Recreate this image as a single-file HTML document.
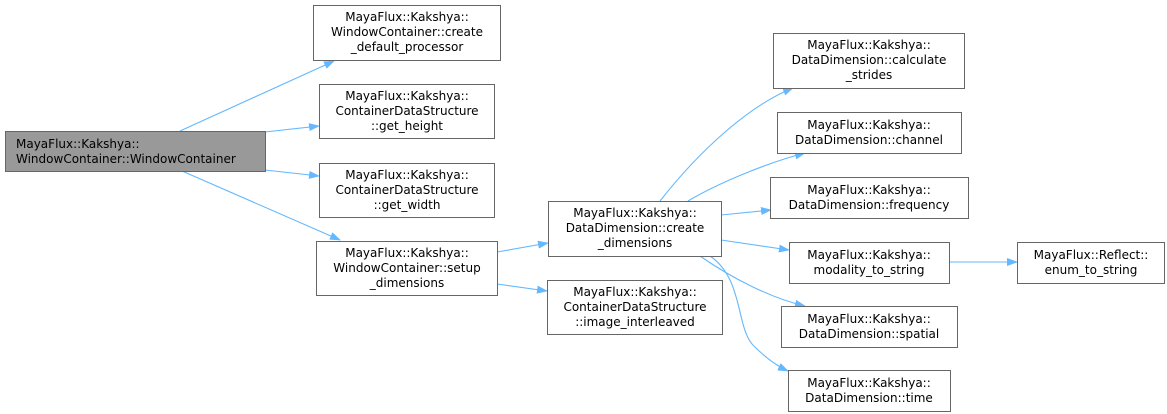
<!DOCTYPE html>
<html><head><meta charset="utf-8"><style>
html,body{margin:0;padding:0;background:#fff;}
svg{display:block;}
text{font-family:"DejaVu Sans","Liberation Sans",sans-serif;font-size:12px;fill:#000;}
</style></head><body>
<svg width="1167" height="414" viewBox="0 0 1167 414" xmlns="http://www.w3.org/2000/svg">
<defs>
<marker id="a" markerWidth="11" markerHeight="8" refX="10" refY="4" orient="auto" markerUnits="userSpaceOnUse">
<path d="M0,0 L11,4 L0,8 z" fill="#63b8ff"/>
</marker>
</defs>
<g fill="none" stroke="#63b8ff" stroke-width="1.1" marker-end="url(#a)">
<path d="M180,131 L334,61"/>
<path d="M265,132 L319,126"/>
<path d="M265,170 L319,176"/>
<path d="M182,171 L340,240"/>
<path d="M497,252 L548,243"/>
<path d="M497,284 L547,291"/>
<path d="M660,201 C700,150 750,105 793,88"/>
<path d="M688,201 C720,182 770,162 805,153"/>
<path d="M721,215 L771,210"/>
<path d="M721,240 L789,250"/>
<path d="M700,256 C730,277 770,298 805,306"/>
<path d="M710,256 C745,280 735,330 755,347 C765,357 775,365 788,371"/>
<path d="M949,262 L1017,262"/>
</g>
<g stroke="#666" stroke-width="1" fill="#fff">
<rect x="5.5" y="131.5" width="260" height="40" fill="#999"/>
<rect x="313.5" y="5.5" width="187" height="55"/>
<rect x="319.5" y="84.5" width="175" height="54"/>
<rect x="319.5" y="163.5" width="175" height="54"/>
<rect x="316.5" y="241.5" width="181" height="54"/>
<rect x="548.5" y="201.5" width="173" height="55"/>
<rect x="547.5" y="280.5" width="175" height="54"/>
<rect x="773.5" y="33.5" width="191" height="55"/>
<rect x="777.5" y="112.5" width="184" height="41"/>
<rect x="770.5" y="177.5" width="198" height="41"/>
<rect x="789.5" y="242.5" width="160" height="41"/>
<rect x="1017.5" y="242.5" width="147" height="41"/>
<rect x="781.5" y="306.5" width="176" height="41"/>
<rect x="788.5" y="370.5" width="162" height="41"/>
</g>
<g>
<text x="16" y="148">MayaFlux::Kakshya::</text>
<text x="16" y="163">WindowContainer::WindowContainer</text>
<text x="407" y="21" text-anchor="middle">MayaFlux::Kakshya::</text>
<text x="407" y="36" text-anchor="middle">WindowContainer::create</text>
<text x="407" y="51" text-anchor="middle">_default_processor</text>
<text x="407" y="100" text-anchor="middle">MayaFlux::Kakshya::</text>
<text x="407" y="115" text-anchor="middle">ContainerDataStructure</text>
<text x="407" y="130" text-anchor="middle">::get_height</text>
<text x="407" y="179" text-anchor="middle">MayaFlux::Kakshya::</text>
<text x="407" y="194" text-anchor="middle">ContainerDataStructure</text>
<text x="407" y="209" text-anchor="middle">::get_width</text>
<text x="407" y="257" text-anchor="middle">MayaFlux::Kakshya::</text>
<text x="407" y="272" text-anchor="middle">WindowContainer::setup</text>
<text x="407" y="287" text-anchor="middle">_dimensions</text>
<text x="635" y="217" text-anchor="middle">MayaFlux::Kakshya::</text>
<text x="635" y="232" text-anchor="middle">DataDimension::create</text>
<text x="635" y="247" text-anchor="middle">_dimensions</text>
<text x="635" y="296" text-anchor="middle">MayaFlux::Kakshya::</text>
<text x="635" y="311" text-anchor="middle">ContainerDataStructure</text>
<text x="635" y="326" text-anchor="middle">::image_interleaved</text>
<text x="869" y="49" text-anchor="middle">MayaFlux::Kakshya::</text>
<text x="869" y="64" text-anchor="middle">DataDimension::calculate</text>
<text x="869" y="79" text-anchor="middle">_strides</text>
<text x="869" y="129" text-anchor="middle">MayaFlux::Kakshya::</text>
<text x="869" y="144" text-anchor="middle">DataDimension::channel</text>
<text x="869" y="194" text-anchor="middle">MayaFlux::Kakshya::</text>
<text x="869" y="209" text-anchor="middle">DataDimension::frequency</text>
<text x="869" y="259" text-anchor="middle">MayaFlux::Kakshya::</text>
<text x="869" y="274" text-anchor="middle">modality_to_string</text>
<text x="1091" y="259" text-anchor="middle">MayaFlux::Reflect::</text>
<text x="1091" y="274" text-anchor="middle">enum_to_string</text>
<text x="869" y="323" text-anchor="middle">MayaFlux::Kakshya::</text>
<text x="869" y="338" text-anchor="middle">DataDimension::spatial</text>
<text x="869" y="387" text-anchor="middle">MayaFlux::Kakshya::</text>
<text x="869" y="402" text-anchor="middle">DataDimension::time</text>
</g>
</svg>
</body></html>
